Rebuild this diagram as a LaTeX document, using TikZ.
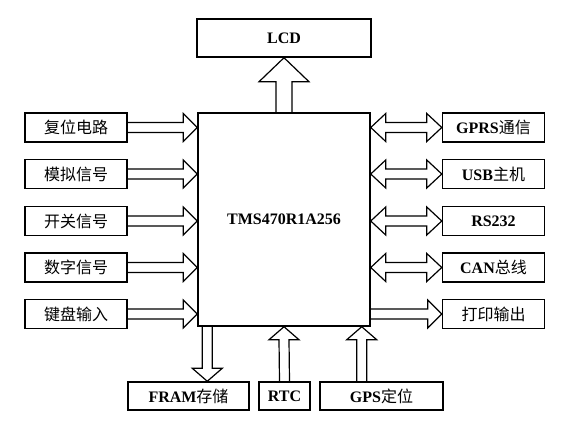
\documentclass[tikz,border=0pt]{standalone}
\usepackage{fontspec}
\setmainfont{Liberation Serif}
\newfontfamily\cjk{Noto Sans CJK SC}
\newcommand{\zh}[1]{{\cjk\mdseries #1}}
\usetikzlibrary{calc}

\tikzset{
box/.style={draw, line width=1.1pt, inner sep=0pt, font=\fontsize{12}{14}\selectfont\bfseries},
sidebox/.style={box, minimum width=76.5pt, minimum height=21.75pt},
lowbox/.style={box, minimum height=21pt},
fatline/.style={draw, line width=0.9pt, line join=miter}}
\tikzset{every picture/.style={line width=0.75pt}}

% fat arrow pointing right: start, tip
\newcommand{\fatR}[2]{\draw[fatline] ($(#1)+(0,-5)$) -- ($(#2)+(-14,-5)$) -- ($(#2)+(-14,-14)$) -- (#2) -- ($(#2)+(-14,14)$) -- ($(#2)+(-14,5)$) -- ($(#1)+(0,5)$);}
% fat arrow with two heads: left tip, right tip
\newcommand{\fatLR}[2]{\draw[fatline] (#1) -- ($(#1)+(15,-14)$) -- ($(#1)+(15,-5)$) -- ($(#2)+(-15,-5)$) -- ($(#2)+(-15,-14)$) -- (#2) -- ($(#2)+(-15,14)$) -- ($(#2)+(-15,5)$) -- ($(#1)+(15,5)$) -- ($(#1)+(15,14)$) -- cycle;}
% fat vertical arrow: start, tip, shaft half, head half, head length (negative = down)
\newcommand{\fatV}[5]{\draw[fatline] ($(#1)+(-#3,0)$) -- ($(#2)+(-#3,#5)$) -- ($(#2)+(-#4,#5)$) -- (#2) -- ($(#2)+(#4,#5)$) -- ($(#2)+(#3,#5)$) -- ($(#1)+(#3,0)$);}

\begin{document}
\begin{tikzpicture}[x=0.75pt,y=0.75pt,yscale=-1,xscale=1]
\useasboundingbox (0,0) rectangle (581,421);

% MCU and display
\node[box, minimum width=129pt, minimum height=159.75pt] (mcu) at (284,219.5) {TMS470R1A256};
\node[box, minimum width=130.5pt, minimum height=28.5pt] (lcd) at (284,38) {LCD};

% inputs
\node[sidebox] (reset) at (76,127.5) {\zh{复位电路}};
\node[sidebox] (analog) at (76,174) {\zh{模拟信号}};
\node[sidebox] (switch) at (76,221) {\zh{开关信号}};
\node[sidebox] (digital) at (76,267.5) {\zh{数字信号}};
\node[sidebox] (keys) at (76,314) {\zh{键盘输入}};

% interfaces
\node[sidebox] (gprs) at (493.5,127.5) {GPRS\zh{通信}};
\node[sidebox] (usb) at (493.5,174) {USB\zh{主机}};
\node[sidebox] (rs) at (493.5,221) {RS232};
\node[sidebox] (can) at (493.5,267.5) {CAN\zh{总线}};
\node[sidebox] (print) at (493.5,314) {\zh{打印输出}};

% bottom row
\node[lowbox, minimum width=90.75pt] (fram) at (188.5,396) {FRAM\zh{存储}};
\node[lowbox, minimum width=38.25pt] (rtc) at (284.5,396) {RTC};
\node[lowbox, minimum width=92.25pt] (gps) at (381.5,396) {GPS\zh{定位}};

\coordinate (framout) at ($(mcu.south west)+(10,0)$);
\coordinate (framin) at (framout |- fram.north);
\coordinate (gpsin) at ($(mcu.south east)+(-9,0)$);
\coordinate (gpsout) at (gpsin |- gps.north);

% arrows in
\fatR{reset.east}{mcu.west |- reset.east}
\fatR{analog.east}{mcu.west |- analog.east}
\fatR{switch.east}{mcu.west |- switch.east}
\fatR{digital.east}{mcu.west |- digital.east}
\fatR{keys.east}{mcu.west |- keys.east}

% arrows out
\fatLR{mcu.east |- gprs.west}{gprs.west}
\fatLR{mcu.east |- usb.west}{usb.west}
\fatLR{mcu.east |- rs.west}{rs.west}
\fatLR{mcu.east |- can.west}{can.west}
\fatR{mcu.east |- print.west}{print.west}

% vertical
\fatV{mcu.north}{lcd.south}{8}{25}{24}
\fatV{framout}{framin}{5}{15}{-13}
\fatV{rtc.north}{mcu.south}{5}{15}{13}
\fatV{gpsout}{gpsin}{5}{15}{13}

\end{tikzpicture}
\end{document}
